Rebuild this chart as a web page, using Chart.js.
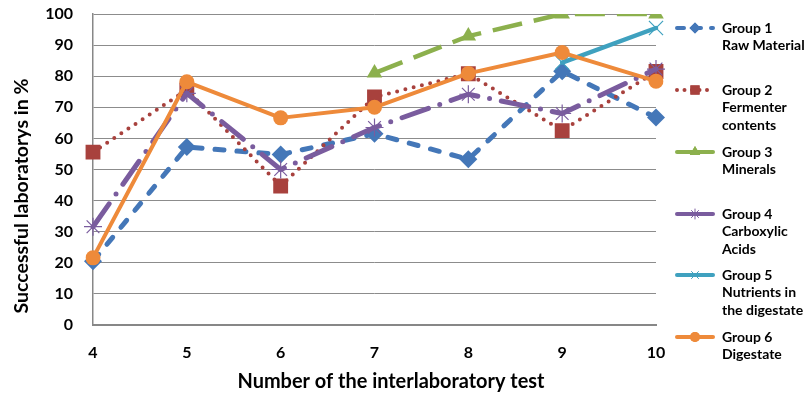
<!DOCTYPE html>
<html>
<head>
<meta charset="utf-8">
<script src="https://cdn.jsdelivr.net/npm/chart.js@4/dist/chart.umd.min.js"></script>
<style>
html,body{margin:0;padding:0;background:#fff;}
#wrap{width:805px;height:395px;position:relative;}
</style>
</head>
<body>
<div id="wrap"><canvas id="c" width="805" height="395"></canvas></div>
<script>
const categories = ['4','5','6','7','8','9','10'];
const group1 = [20.5, 57.2, 54.8, 61.5, 53.3, 81.6, 66.7];
const group2 = [55.6, 75.6, 44.7, 73.3, 80.8, 62.5, 81.5];
const group3 = [null, null, null, 81.0, 92.9, 100, 100];
const group4 = [31.6, 74.5, 50.0, 63.5, 74.2, 68.0, 82.3];
const group5 = [null, null, null, null, null, 84.4, 95.5];
const group6 = [21.6, 78.2, 66.6, 70.0, 80.9, 87.6, 78.4];
const yTicks = [0,10,20,30,40,50,60,70,80,90,100];
const legendLabels = [
  ['Group 1','Raw Material'],
  ['Group 2','Fermenter','contents'],
  ['Group 3','Minerals'],
  ['Group 4','Carboxylic','Acids'],
  ['Group 5','Nutrients in','the digestate'],
  ['Group 6','Digestate']
];
const xTitle = 'Number of the interlaboratory test';
const yTitle = 'Successful laboratorys in %';

const FONT = 'Lato, "Open Sans", "DejaVu Sans", sans-serif';

const styles = [
  {color:'#4477B8', w:5, dash:[9,13], ldash:[7,10], cap:'round', point:'rectRot', r:9, lr:5.5},
  {color:'#A8413D', w:4, dash:[0,8.5], ldash:[0,7.5], cap:'round', point:'rect', r:10.5, lr:6.5},
  {color:'#8CB04D', w:4.5, dash:[30,12], ldash:[], cap:'butt', point:'triangle', r:9, lr:6},
  {color:'#7A5C9E', w:5, dash:[28,12,0,12], ldash:[], cap:'round', point:'star', r:9, lr:5},
  {color:'#3FA1BF', w:4.5, dash:[], ldash:[], cap:'round', point:'crossRot', r:10, lr:5},
  {color:'#EE8A3A', w:4, dash:[], ldash:[], cap:'round', point:'circle', r:7.5, lr:5}
];
const seriesData = [group1, group2, group3, group4, group5, group6];

const datasets = seriesData.map((d, i) => {
  const s = styles[i];
  const lineType = (s.point === 'star' || s.point === 'crossRot');
  return {
    label: legendLabels[i].join(' '),
    data: d,
    borderColor: s.color,
    backgroundColor: s.color,
    borderWidth: s.w,
    borderDash: s.dash,
    borderCapStyle: s.cap,
    borderJoinStyle: 'round',
    pointStyle: s.point,
    pointRadius: s.r,
    pointHoverRadius: s.r,
    pointBackgroundColor: s.color,
    pointBorderColor: s.color,
    pointBorderWidth: lineType ? 1.2 : 0,
    tension: 0,
    spanGaps: false,
    fill: false,
    order: 6 - i
  };
});

function fitFont(ctx, text, targetWidth, base) {
  ctx.font = 'bold ' + base + 'px ' + FONT;
  const w = ctx.measureText(text).width;
  const size = base * targetWidth / w;
  return 'bold ' + size.toFixed(2) + 'px ' + FONT;
}

const decorPlugin = {
  id: 'decor',
  afterDraw(chart) {
    const ctx = chart.ctx;
    ctx.save();
    ctx.fillStyle = '#000';
    ctx.textAlign = 'center';
    ctx.textBaseline = 'middle';
    ctx.font = fitFont(ctx, xTitle, 307, 18);
    ctx.fillText(xTitle, 391, 382);
    ctx.save();
    ctx.translate(22, 196);
    ctx.rotate(-Math.PI/2);
    ctx.font = fitFont(ctx, yTitle, 235, 18);
    ctx.fillText(yTitle, 0, 0);
    ctx.restore();

    // legend
    const tops = [28, 90, 152, 214, 275, 337];
    const lh = 17.8;
    ctx.font = 'bold 14px ' + FONT;
    ctx.textAlign = 'left';
    legendLabels.forEach((lines, i) => {
      const s = styles[i];
      const y = tops[i];
      ctx.save();
      ctx.strokeStyle = s.color;
      ctx.lineWidth = 4;
      ctx.lineCap = 'round';
      ctx.setLineDash(s.ldash);
      ctx.beginPath();
      ctx.moveTo(677, y);
      ctx.lineTo(713, y);
      ctx.stroke();
      ctx.setLineDash([]);
      ctx.fillStyle = s.color;
      ctx.strokeStyle = s.color;
      const lineType = (s.point === 'star' || s.point === 'crossRot');
      ctx.lineWidth = lineType ? 1 : 0;
      Chart.helpers.drawPoint(ctx, {pointStyle: s.point, radius: s.lr, rotation: 0, borderWidth: lineType ? 1 : 0}, 695, y);
      if (!lineType) ctx.fill();
      ctx.restore();
      ctx.fillStyle = '#000';
      lines.forEach((t, j) => ctx.fillText(t, 722, y + j * lh));
    });
    ctx.restore();
  }
};

new Chart(document.getElementById('c'), {
  type: 'line',
  data: { labels: categories, datasets },
  options: {
    responsive: false,
    animation: false,
    devicePixelRatio: 1,
    layout: { padding: { left: 0, right: 149, top: 14, bottom: 0 } },
    plugins: { legend: { display: false }, tooltip: { enabled: false } },
    scales: {
      x: {
        type: 'category',
        offset: false,
        grid: { display: false, drawTicks: true, tickLength: 16, tickColor: 'rgba(0,0,0,0)' },
        border: { display: true, color: '#878787', width: 2 },
        ticks: { color: '#000', font: { family: FONT, size: 16, weight: 'bold' }, padding: 2, maxRotation: 0, autoSkip: false },
        afterFit(scale) { scale.height = 70; }
      },
      y: {
        min: 0, max: 100,
        afterBuildTicks(scale) { scale.ticks = yTicks.map(v => ({ value: v })); },
        grid: { color: '#8C8C8C', lineWidth: 1, drawTicks: true, tickLength: 18, tickColor: 'rgba(0,0,0,0)' },
        border: { display: true, color: '#878787', width: 1.5 },
        ticks: { color: '#000', font: { family: FONT, size: 16, weight: 'bold' }, padding: 2 },
        afterFit(scale) { scale.width = 93; }
      }
    }
  },
  plugins: [decorPlugin]
});
</script>
</body>
</html>
